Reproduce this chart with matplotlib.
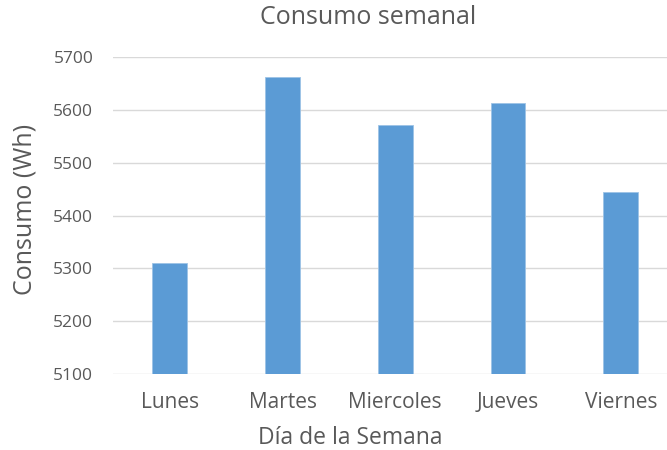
import matplotlib
matplotlib.use('Agg')
import matplotlib.pyplot as plt

# --- DATOS ---
dias = ['Lunes', 'Martes', 'Miercoles', 'Jueves', 'Viernes']
consumo = [5311, 5663, 5571, 5614, 5445]
y_ticks = [5100, 5200, 5300, 5400, 5500, 5600, 5700]

plt.rcParams['font.family'] = ['Open Sans', 'DejaVu Sans']
gris = '#595959'

fig = plt.figure(figsize=(6.67, 4.5), dpi=100)
ax = fig.add_axes([0.170, 0.169, 0.830, 0.704])

x = range(len(dias))
ax.bar(x, consumo, width=0.31, color='#5B9BD5', edgecolor='#9DC3E6', linewidth=0.6, zorder=3)

ax.set_ylim(5100, 5700)
ax.set_xlim(-0.5, 4.41)
ax.set_yticks(y_ticks)
ax.set_xticks(list(x))
ax.set_xticklabels(dias)
ax.tick_params(axis='both', length=0, colors=gris)
ax.tick_params(axis='x', pad=13, labelsize=15)
ax.tick_params(axis='y', pad=14.5, labelsize=12.5)
ax.grid(axis='y', color='#D9D9D9', linewidth=1, zorder=0)
for s in ax.spines.values():
    s.set_visible(False)

fig.text(0.552, 0.962, 'Consumo semanal', ha='center', va='center', fontsize=18, color=gris)
fig.text(0.525, 0.027, 'Día de la Semana', ha='center', va='center', fontsize=16.5, color=gris)
fig.text(0.037, 0.535, 'Consumo (Wh)', ha='center', va='center', rotation=90, fontsize=18, color=gris)

fig.savefig('out.png', dpi=100)
